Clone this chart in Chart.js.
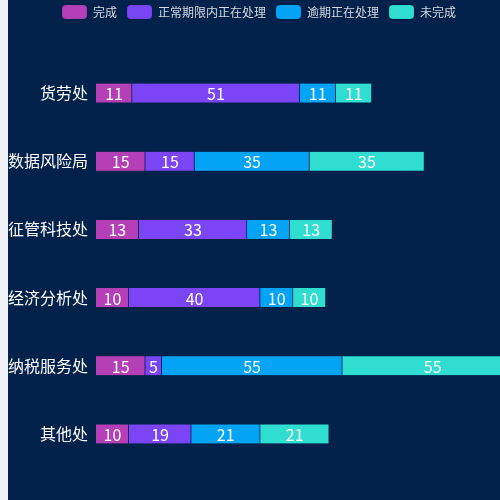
<!DOCTYPE html>
<html>
<head>
<meta charset="utf-8">
<script src="https://cdn.jsdelivr.net/npm/chart.js@4"></script>
<style>
  html, body { margin: 0; padding: 0; background: #f0f2f7; overflow: hidden; }
  #wrap { position: absolute; left: 8px; top: -5px; width: 492px; height: 505px; background: #03224b; }
</style>
</head>
<body>
<div id="wrap"><canvas id="my-chart"></canvas></div>
<script>
const categories = ['货劳处', '数据风险局', '征管科技处', '经济分析处', '纳税服务处', '其他处'];
const seriesNames = ['完成', '正常期限内正在处理', '逾期正在处理', '未完成'];
const doneValues = [11, 15, 13, 10, 15, 10];
const normalValues = [51, 15, 33, 40, 5, 19];
const overdueValues = [11, 35, 13, 10, 55, 21];
const unfinishedValues = [11, 35, 13, 10, 55, 21];
const colors = ['#b43fb6', '#7b45f6', '#03a3f6', '#30ddd1'];

const fontFamily = '"Noto Sans CJK SC", "Noto Sans", sans-serif';

// draws the value in the middle of each bar segment
const barLabels = {
  id: 'barLabels',
  afterDatasetsDraw(chart) {
    const ctx = chart.ctx;
    ctx.save();
    ctx.fillStyle = '#ffffff';
    ctx.font = '16px ' + fontFamily;
    ctx.textAlign = 'center';
    ctx.textBaseline = 'middle';
    chart.data.datasets.forEach((ds, i) => {
      const meta = chart.getDatasetMeta(i);
      meta.data.forEach((bar, j) => {
        const x = (bar.x + bar.base) / 2;
        ctx.fillText(ds.data[j], x, bar.y + 1);
      });
    });
    ctx.restore();
  }
};

// extra room under the legend, and nudge it a bit to the right
const legendSpacer = {
  id: 'legendSpacer',
  beforeInit(chart) {
    const legend = chart.legend;
    const fit = legend.fit;
    const draw = legend.draw;
    legend.fit = function () {
      fit.call(this);
      this.height += 30;
    };
    legend.draw = function () {
      chart.ctx.save();
      chart.ctx.translate(5, 0);
      draw.call(this);
      chart.ctx.restore();
    };
  }
};

const allValues = [doneValues, normalValues, overdueValues, unfinishedValues];

const ctx = document.getElementById('my-chart').getContext('2d');
const chart = new Chart(ctx, {
  type: 'bar',
  data: {
    labels: categories,
    datasets: seriesNames.map((name, i) => ({
      label: name,
      data: allValues[i],
      backgroundColor: colors[i],
      borderColor: 'rgba(0,20,60,0.35)',
      borderWidth: { left: 0, right: 1, top: 0, bottom: 0 },
      borderSkipped: false,
      barThickness: 19
    }))
  },
  options: {
    indexAxis: 'y',
    responsive: true,
    maintainAspectRatio: false,
    animation: false,
    layout: { padding: { top: 0, bottom: 32, left: 0, right: 0 } },
    plugins: {
      tooltip: { enabled: false },
      legend: {
        position: 'top',
        labels: {
          color: '#d4d8e0',
          font: { size: 12, family: fontFamily },
          boxWidth: 25,
          boxHeight: 14,
          useBorderRadius: true,
          borderRadius: 4,
          padding: 10
        }
      }
    },
    scales: {
      x: {
        stacked: true,
        display: false,
        min: 0,
        max: 123
      },
      y: {
        stacked: true,
        grid: { display: false, drawTicks: false },
        border: { display: false },
        ticks: {
          color: '#ffffff',
          font: { size: 16, family: fontFamily },
          padding: 8
        },
        afterFit(scale) { scale.width = 88; }
      }
    }
  },
  plugins: [barLabels, legendSpacer]
});
</script>
</body>
</html>
